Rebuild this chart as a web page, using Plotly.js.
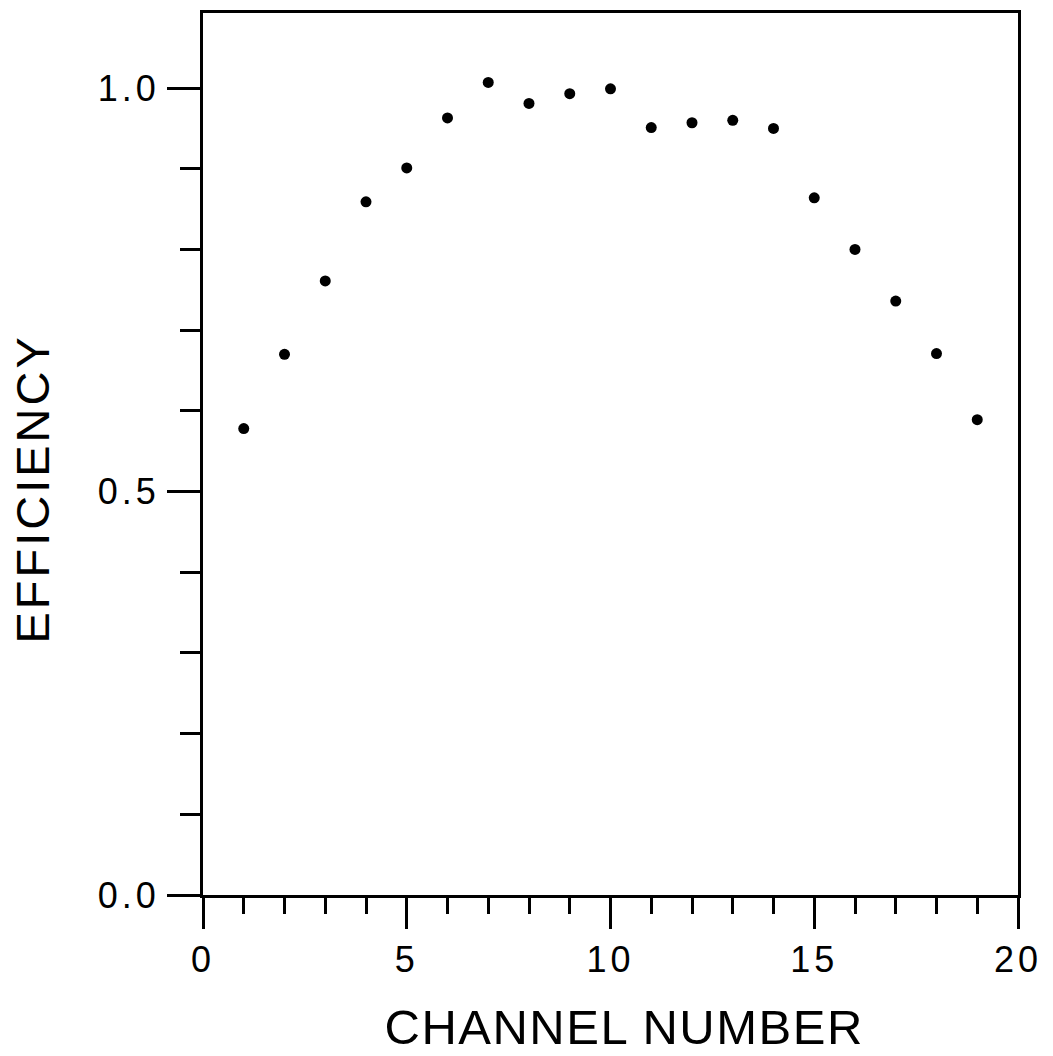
<!DOCTYPE html>
<html>
<head>
<meta charset="utf-8">
<script src="https://cdn.plot.ly/plotly-3.0.1.min.js"></script>
<style>
  html, body { margin: 0; padding: 0; background: #fff; }
  #chart { width: 1053px; height: 1056px; }
  .xtick text, .ytick text { letter-spacing: 4px; }
  .annotation[data-index="0"] .annotation-text { letter-spacing: 1.5px; }
  .annotation[data-index="1"] .annotation-text { letter-spacing: 3px; }
</style>
</head>
<body>
<div id="chart"></div>
<script>
const channels = [1, 2, 3, 4, 5, 6, 7, 8, 9, 10, 11, 12, 13, 14, 15, 16, 17, 18, 19];
const efficiency = [0.578, 0.670, 0.761, 0.859, 0.901, 0.963, 1.007, 0.981, 0.993, 0.999,
                    0.951, 0.957, 0.960, 0.950, 0.864, 0.800, 0.736, 0.671, 0.589];
const xTickVals = [0, 5, 10, 15, 20];
const xTickText = ['0', '5', '10', '15', '20'];
const yTickVals = [0, 0.5, 1.0];
const yTickText = ['0.0', '0.5', '1.0'];
const xTitle = 'CHANNEL NUMBER';
const yTitle = 'EFFICIENCY';

const font = 'Liberation Sans, Arial, sans-serif';

const trace = {
  x: channels,
  y: efficiency,
  type: 'scatter',
  mode: 'markers',
  marker: { color: '#000', size: 11 },
  hoverinfo: 'x+y'
};

const layout = {
  width: 1053,
  height: 1056,
  margin: { l: 203, r: 35, t: 13, b: 161 },
  paper_bgcolor: '#fff',
  plot_bgcolor: '#fff',
  showlegend: false,
  font: { family: font, color: '#000' },
  xaxis: {
    range: [0, 20],
    showgrid: false,
    zeroline: false,
    showline: true,
    linecolor: '#000',
    linewidth: 3,
    mirror: true,
    tickmode: 'array',
    tickvals: xTickVals,
    ticktext: xTickText,
    ticks: 'outside',
    ticklen: 31,
    tickwidth: 3,
    tickcolor: '#000',
    tickfont: { family: font, size: 36, color: '#000' },
    minor: { dtick: 1, tick0: 0, ticks: 'outside', ticklen: 16, tickwidth: 3, tickcolor: '#000', showgrid: false },
    fixedrange: true
  },
  yaxis: {
    range: [0, 1.093],
    showgrid: false,
    zeroline: false,
    showline: true,
    linecolor: '#000',
    linewidth: 3,
    mirror: true,
    tickmode: 'array',
    tickvals: yTickVals,
    ticktext: yTickText,
    ticks: 'outside',
    ticklen: 33,
    tickwidth: 3,
    tickcolor: '#000',
    tickfont: { family: font, size: 36, color: '#000' },
    minor: { dtick: 0.1, tick0: 0, ticks: 'outside', ticklen: 20, tickwidth: 3, tickcolor: '#000', showgrid: false },
    fixedrange: true
  },
  annotations: [
    {
      text: xTitle,
      xref: 'paper', yref: 'paper',
      x: 0.5166, y: 0,
      xanchor: 'center', yanchor: 'top',
      yshift: -104,
      borderpad: 0,
      showarrow: false,
      font: { family: font, size: 49, color: '#000' }
    },
    {
      text: yTitle,
      xref: 'paper', yref: 'y',
      x: 0, y: 0.503,
      xanchor: 'right', yanchor: 'middle',
      xshift: -143,
      borderpad: 0,
      textangle: -90,
      showarrow: false,
      font: { family: font, size: 47, color: '#000' }
    }
  ]
};

Plotly.newPlot('chart', [trace], layout, { displayModeBar: false, staticPlot: true });
</script>
</body>
</html>
